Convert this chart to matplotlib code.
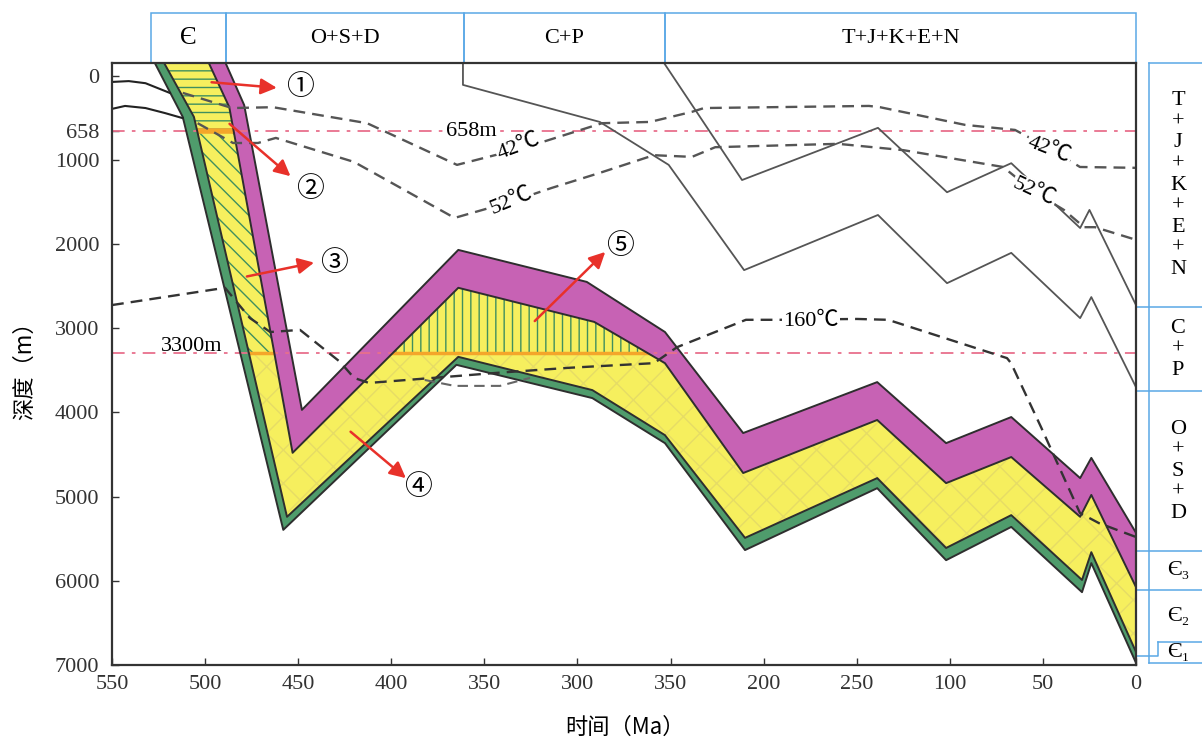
import numpy as np
import matplotlib.pyplot as plt
from matplotlib.patches import Polygon, Rectangle

plt.rcParams['font.family'] = ['Liberation Serif', 'Noto Sans CJK SC', 'DejaVu Sans']
plt.rcParams['hatch.linewidth'] = 1.0

# stratigraphic header (Ma) and right-hand column (m)
top_names = ['Є', 'O+S+D', 'C+P', 'T+J+K+E+N']
top_bounds = [529, 489, 361, 253, 0]
col_names = ['T\n+\nJ\n+\nK\n+\nE\n+\nN', 'C\n+\nP', 'O\n+\nS\n+\nD', 'Є₃', 'Є₂', 'Є₁']
col_bounds = [-150, 2750, 3750, 5650, 6110, 6730, 6980]

# burial curves (time Ma, depth m), from top of column to bottom
t1 = [489, 479, 448, 364, 295, 253, 211, 139, 102, 67, 30, 24, 0]
d1 = [-150, 350, 3970, 2070, 2450, 3045, 4245, 3640, 4365, 4055, 4780, 4540, 5430]
t2 = [498, 487, 453, 364, 291, 253, 211, 139, 102, 67, 30, 24, 0]
d2 = [-150, 375, 4480, 2520, 2925, 3415, 4720, 4090, 4840, 4530, 5240, 4980, 6075]
t3 = [522, 506, 456, 364, 292, 253, 210, 139, 102, 67, 29, 24, 0]
d3 = [-150, 490, 5240, 3340, 3735, 4270, 5490, 4780, 5610, 5220, 5990, 5660, 6845]
t4 = [527, 512, 458, 365, 292, 253, 210, 139, 102, 67, 29, 24, 0]
d4 = [-150, 490, 5395, 3435, 3830, 4365, 5635, 4900, 5755, 5360, 6135, 5790, 6975]

# younger horizons (thin grey)
ta = [361.5, 361.5, 288, 251, 210.5, 138.6, 101.5, 67, 30, 24, 0]
da = [-150, 110, 550, 1060, 2310, 1655, 2465, 2105, 2880, 2630, 3700]
tb = [253.5, 211.6, 138.6, 101.5, 67, 30, 25, 0]
db = [-150, 1240, 620, 1385, 1040, 1810, 1595, 2725]

# pre-Cambrian horizons
tp1 = [550, 541, 532, 519]
dp1 = [75, 65, 90, 205]
tp2 = [550, 543, 532, 521.5, 512]
dp2 = [395, 360, 385, 445, 505]

# isotherms
t42 = [512, 485.5, 463.5, 413, 364.7, 327.6, 286.8, 261, 238.5, 232, 143.4, 137.5, 91.8, 65, 46.7, 30.1, 0]
d42 = [205, 385, 375, 565, 1060, 850, 565, 550, 430, 385, 360, 375, 585, 645, 860, 1085, 1095]
t52 = [504, 485, 471.6, 462, 420, 366, 336, 314, 288, 259, 238.5, 226, 160, 125, 71.4, 54.8, 38.7, 27.9, 22, 0]
d52 = [565, 800, 800, 740, 1025, 1690, 1500, 1335, 1155, 945, 965, 850, 810, 885, 1085, 1380, 1595, 1800, 1800, 1950]
t160 = [550, 489.3, 475.9, 465, 449, 427.5, 420, 412, 371.7, 343.2, 304.5, 258.9, 246.5, 209.5,
        191.2, 149.9, 133.2, 69.3, 67.1, 51, 30.1, 19.9, 0]
d160 = [2725, 2520, 2880, 3045, 3020, 3400, 3590, 3650, 3580, 3530, 3470, 3415, 3225, 2900,
        2900, 2890, 2900, 3355, 3415, 4175, 5195, 5315, 5480]
tu = [382, 366, 341.6, 325.5]
du = [3615, 3685, 3685, 3590]

ref_depths = [658, 3300]

xticks = [550, 500, 450, 400, 350, 300, 250, 200, 150, 100, 50, 0]
xlabels = ['550', '500', '450', '400', '350', '300', '350', '200', '250', '100', '50', '0']
yticks = [0, 658, 1000, 2000, 3000, 4000, 5000, 6000, 7000]

# circled markers: (text, time, depth) and arrows (tail, head)
marks = [('①', 449, 147), ('②', 443.7, 1360), ('③', 431, 2240), ('④', 385.6, 4900), ('⑤', 277, 2035)]
arrows = [((498, 76), (460, 147)), ((488, 551), (453, 1216)), ((479, 2392), (440, 2214)),
          ((423, 4208), (391, 4802)), ((324, 2938), (284, 2071))]

purple = '#c762b4'
yellow = '#f6ef5e'
green = '#4f9c6c'
hgreen = '#3f8f5f'
outline = '#2e2e2e'
blue = '#5aa8e6'

fig = plt.figure(figsize=(12.02, 7.42), dpi=100)
ax = fig.add_axes([112 / 1202, 77 / 742, 1024 / 1202, 602 / 742])
ax.set_xlim(550, 0)
ax.set_ylim(7000, -150)


def poly(ta_, da_, tb_, db_):
    return list(zip(ta_, da_)) + list(zip(tb_, db_))[::-1]


green_p = Polygon(poly(t4, d4, t3, d3), closed=True, fc=green, ec='none', zorder=1)
yellow_p = Polygon(poly(t3, d3, t2, d2), closed=True, fc=yellow, ec='none', zorder=1)
purple_p = Polygon(poly(t2, d2, t1, d1), closed=True, fc=purple, ec='none', zorder=1)
for p in (green_p, yellow_p, purple_p):
    ax.add_patch(p)

# hatched parts of the yellow layer, faint mesh below 3300 m
for hatch, col, (ta0, ta1, dd0, dd1) in [('--', hgreen, (550, 0, -200, 658)),
                                        ('\\\\', hgreen, (550, 420, 658, 3300)),
                                        ('||', hgreen, (420, 0, 658, 3300)),
                                        ('x', '#e6dc66', (550, 0, 3300, 7100))]:
    hp = Polygon(poly(t3, d3, t2, d2), closed=True, fc='none', ec=col, lw=0, hatch=hatch, zorder=2)
    ax.add_patch(hp)
    hp.set_clip_path(Rectangle((ta0, dd0), ta1 - ta0, dd1 - dd0, transform=ax.transData))

# reference depth lines
for d in ref_depths:
    ax.plot([550, 0], [d, d], color='#e8708c', lw=1.3, ls=(0, (7, 4, 2, 4)), zorder=2.5)
for d, w in zip(ref_depths, [4, 2.5]):
    ln, = ax.plot([550, 0], [d, d], color='#f4a62a', lw=w, zorder=2.6)
    ln.set_clip_path(yellow_p)

for t, d in [(t1, d1), (t2, d2), (t3, d3), (t4, d4)]:
    ax.plot(t, d, color=outline, lw=1.4, zorder=3)

ax.plot(ta, da, color='#555555', lw=1.3, zorder=3)
ax.plot(tb, db, color='#555555', lw=1.3, zorder=3)
ax.plot(tp1, dp1, color='#222222', lw=1.5, zorder=3)
ax.plot(tp2, dp2, color='#222222', lw=1.5, zorder=3)

ax.plot(t42, d42, color='#555555', lw=1.7, ls=(0, (5, 3)), zorder=3.5)
ax.plot(t52, d52, color='#555555', lw=1.7, ls=(0, (5, 3)), zorder=3.5)
ax.plot(t160, d160, color='#333333', lw=1.7, ls=(0, (5, 3)), zorder=3.5)
ax.plot(tu, du, color='#666666', lw=1.5, ls=(0, (5, 3)), zorder=3.5)

wb = dict(facecolor='white', edgecolor='none', pad=1)
ax.text(357, 658, '658m', fontsize=16, ha='center', va='center', bbox=wb, zorder=4)
ax.text(507, 3223, '3300m', fontsize=16, ha='center', va='center', zorder=4)
ax.text(331.6, 844, '42℃', fontsize=16, ha='center', va='center', rotation=20, bbox=wb, zorder=4)
ax.text(335.5, 1498, '52℃', fontsize=16, ha='center', va='center', rotation=22, bbox=wb, zorder=4)
ax.text(46.7, 884, '42℃', fontsize=16, ha='center', va='center', rotation=-22, bbox=wb, zorder=4)
ax.text(54.8, 1382, '52℃', fontsize=16, ha='center', va='center', rotation=-25, bbox=wb, zorder=4)
ax.text(174.6, 2926, '160℃', fontsize=16, ha='center', va='center', bbox=wb, zorder=4)

for (s, t, d) in marks:
    ax.text(t, d, s, fontsize=20, ha='center', va='center', zorder=5)
for tail, head in arrows:
    ax.annotate('', xy=head, xytext=tail,
                arrowprops=dict(arrowstyle='-|>', color='#e8312a', lw=1.8, mutation_scale=24), zorder=5)

# axes styling
for s in ax.spines.values():
    s.set_color('#333333')
    s.set_linewidth(1.6)
    s.set_zorder(6)
ax.set_xticks(xticks)
ax.set_xticklabels(xlabels)
ax.set_yticks(yticks)
ax.tick_params(direction='in', length=5, width=1, labelsize=16, colors='#333333')
ax.tick_params(axis='x', pad=7)
ax.tick_params(axis='y', pad=9)

fig.text(25 / 1202, 1 - 365 / 742, '深度（m）', rotation=90, ha='center', va='center',
         fontsize=16, family=['Noto Sans CJK SC', 'DejaVu Sans'])
fig.text(625 / 1202, 1 - 727 / 742, '时间（Ma）', ha='center', va='center',
         fontsize=16, family=['Noto Sans CJK SC', 'DejaVu Sans'])

# header boxes above the plot
xtr = ax.get_xaxis_transform()
for i, name in enumerate(top_names):
    a, b = top_bounds[i], top_bounds[i + 1]
    ax.add_patch(Rectangle((a, 1.0), b - a, 0.083, transform=xtr, fc='none', ec=blue, lw=1.1, clip_on=False))
    ax.text((a + b) / 2, 1.0415, name, transform=xtr, ha='center', va='center',
            fontsize=18 if i == 0 else 16, clip_on=False)

# stratigraphic column on the right
ytr = ax.get_yaxis_transform()
xl, xr = 1.0127, 1.2
ax.plot([xl, xl], [col_bounds[0], col_bounds[-1]], transform=ytr, color=blue, lw=1.1, clip_on=False)
ax.plot([xl, xr], [col_bounds[0], col_bounds[0]], transform=ytr, color=blue, lw=1.1, clip_on=False)
ax.plot([xl, xr], [col_bounds[-1], col_bounds[-1]], transform=ytr, color=blue, lw=1.1, clip_on=False)
for d in col_bounds[1:-2]:
    ax.plot([1.0, xr], [d, d], transform=ytr, color=blue, lw=1.1, clip_on=False)
xe = 1.0215
ax.plot([xe, xr], [col_bounds[-2], col_bounds[-2]], transform=ytr, color=blue, lw=1.1, clip_on=False)
ax.plot([1.0, xe, xe], [6893, 6893, col_bounds[-2]], transform=ytr, color=blue, lw=1.1, clip_on=False)
for i, name in enumerate(col_names):
    a, b = col_bounds[i], col_bounds[i + 1]
    ax.text(1.041, (a + b) / 2, name, transform=ytr, ha='center', va='center', fontsize=16,
            linespacing=1.15, clip_on=False)

fig.savefig('out.png', dpi=100)
